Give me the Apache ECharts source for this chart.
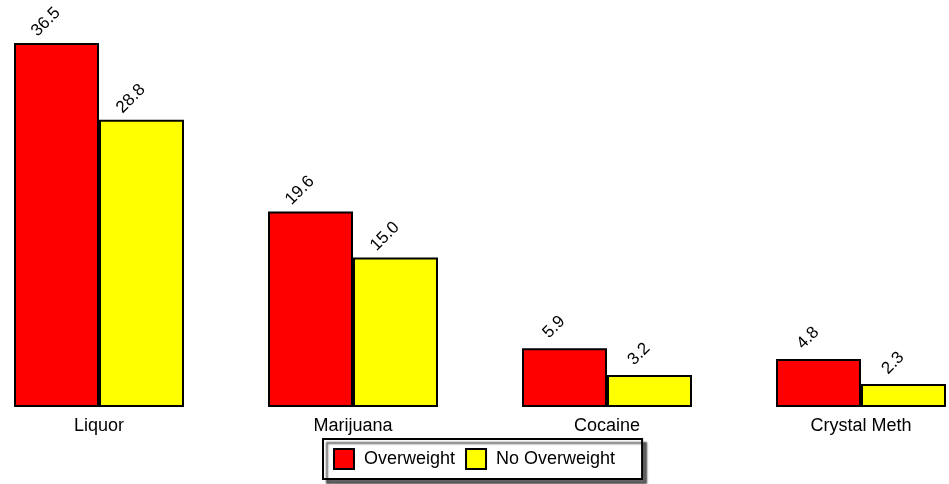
<!DOCTYPE html>
<html>
<head>
<meta charset="utf-8">
<script src="https://cdn.jsdelivr.net/npm/echarts@6/dist/echarts.min.js"></script>
<style>html,body{margin:0;padding:0;background:#fff;}#c{width:949px;height:484px;}</style>
</head>
<body>
<div id="c"></div>
<script>
const categories = ['Liquor', 'Marijuana', 'Cocaine', 'Crystal Meth'];
const overweight = [36.5, 19.6, 5.9, 4.8];
const noOverweight = [28.8, 15.0, 3.2, 2.3];
const seriesNames = ['Overweight', 'No Overweight'];

const FONT = '"Liberation Sans", Arial, sans-serif';
const chart = echarts.init(document.getElementById('c'), null, {renderer: 'canvas'});
const labelCfg = {
  show: true,
  position: [32, -21],
  rotate: 45,
  align: 'center',
  verticalAlign: 'middle',
  color: '#000',
  fontFamily: FONT,
  fontSize: 17,
  formatter: p => p.value.toFixed(1)
};
chart.setOption({
  animation: false,
  backgroundColor: '#fff',
  grid: {left: -28, width: 1016, top: 8, bottom: 77, containLabel: false, outerBoundsMode: 'none'},
  xAxis: {
    type: 'category', data: categories,
    axisLine: {show: false}, axisTick: {show: false},
    axisLabel: {color: '#000', fontFamily: FONT, fontSize: 18, margin: 10}
  },
  yAxis: {type: 'value', min: 0, max: 40, show: false, splitLine: {show: false}},
  legend: {
    left: 323, top: 439,
    orient: 'horizontal',
    itemWidth: 20, itemHeight: 20, itemGap: 10,
    icon: 'rect',
    padding: [9, 27, 9, 10],
    backgroundColor: '#fff',
    borderColor: '#000', borderWidth: 2,
    shadowColor: 'rgba(0,0,0,0.6)', shadowBlur: 2, shadowOffsetX: 4, shadowOffsetY: 4,
    textStyle: {color: '#000', fontFamily: FONT, fontSize: 18, padding: [0, 0, 0, 5]},
    itemStyle: {borderColor: '#000', borderWidth: 2},
    data: seriesNames
  },
  series: [
    {name: seriesNames[0], type: 'bar', data: overweight, barWidth: 85, barGap: '0%',
     itemStyle: {color: '#ff0000', borderColor: '#000', borderWidth: 2}, label: labelCfg},
    {name: seriesNames[1], type: 'bar', data: noOverweight, barWidth: 85, barGap: '0%',
     itemStyle: {color: '#ffff00', borderColor: '#000', borderWidth: 2}, label: labelCfg}
  ]
});
</script>
</body>
</html>
